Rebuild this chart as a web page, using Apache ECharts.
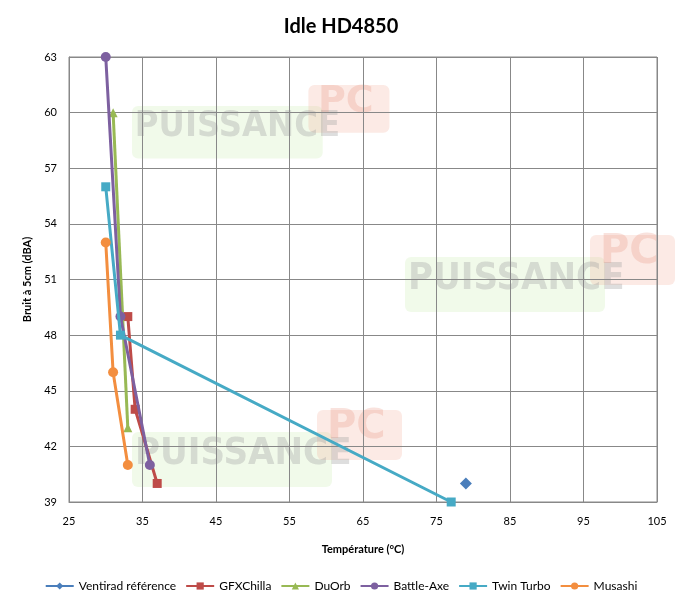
<!DOCTYPE html>
<html><head><meta charset="utf-8">
<script src="https://cdn.jsdelivr.net/npm/echarts@6/dist/echarts.min.js"></script>
<style>html,body{margin:0;padding:0;background:#fff}#c{width:682px;height:607px}</style>
</head><body><div id="c"></div>
<script>
const seriesNames = ["Ventirad référence","GFXChilla","DuOrb","Battle-Axe","Twin Turbo","Musashi"];
const ventirad = [[79,40]];
const gfxchilla = [[33,49],[34,44],[37,40]];
const duorb = [[31,60],[33,43]];
const battleAxe = [[30,63],[32,49],[36,41]];
const twinTurbo = [[30,56],[32,48],[77,39]];
const musashi = [[30,53],[31,46],[33,41]];
const xTicks = [25,35,45,55,65,75,85,95,105];
const yTicks = [39,42,45,48,51,54,57,60,63];

const colors = ["#4A7EBB","#BE4B48","#98B954","#7D60A0","#46AAC5","#F38E3F"];
const symbols = ["diamond","rect","triangle","circle","rect","circle"];
const sizes = [12,9,9,10,9,10];
const datas = [ventirad,gfxchilla,duorb,battleAxe,twinTurbo,musashi];
const font = "Lato, 'Open Sans', sans-serif";

function watermark(x,y,w){
  const s = w/215;
  return [
    {type:'rect',z:-1,shape:{x:x,y:y+22*s,width:200*s,height:55*s,r:6},style:{fill:'rgba(200,235,170,0.25)'}},
    {type:'rect',z:-1,shape:{x:x+185*s,y:y,width:85*s,height:50*s,r:6},style:{fill:'rgba(245,170,150,0.25)'}},
    {type:'text',z:-1,style:{x:x+3*s,y:y+25*s,text:'PUISSANCE',font:'bold '+Math.round(38*s)+'px "DejaVu Sans Condensed", "Liberation Sans Narrow", sans-serif',fill:'rgba(160,160,160,0.35)',width:190*s,overflow:'none'}},
    {type:'text',z:-1,style:{x:x+195*s,y:y-2*s,text:'PC',font:'bold '+Math.round(40*s)+'px "DejaVu Sans", sans-serif',fill:'rgba(230,140,120,0.25)'}}
  ];
}

const chart = echarts.init(document.getElementById('c'));
chart.setOption({
  animation:false,
  graphic: [].concat(watermark(132,85,205), watermark(405,235,215), watermark(132,410,215)),
  title:{text:"Idle HD4850",left:'center',top:12,textStyle:{fontFamily:font,fontSize:20,fontWeight:'bold',color:'#000'}},
  grid:{left:69,right:25,top:57,bottom:105,show:true,borderColor:'#888',borderWidth:1},
  xAxis:{type:'value',min:xTicks[0],max:xTicks[xTicks.length-1],interval:10,
    name:"Température (°C)",nameLocation:'middle',nameGap:42,
    nameTextStyle:{fontFamily:font,fontSize:11,fontWeight:'bold',color:'#000'},
    axisLine:{show:true,lineStyle:{color:'#888'}},axisTick:{show:false},
    axisLabel:{fontFamily:font,fontSize:11,color:'#000',margin:14},
    splitLine:{show:true,lineStyle:{color:'#888',width:1}}},
  yAxis:{type:'value',min:yTicks[0],max:yTicks[yTicks.length-1],interval:3,
    name:"Bruit à 5cm (dBA)",nameLocation:'middle',nameGap:32,nameRotate:90,
    nameTextStyle:{fontFamily:font,fontSize:11,fontWeight:'bold',color:'#000'},
    axisLine:{show:true,lineStyle:{color:'#888'}},axisTick:{show:false},
    axisLabel:{fontFamily:font,fontSize:11,color:'#000',margin:12},
    splitLine:{show:true,lineStyle:{color:'#888',width:1}}},
  legend:{bottom:10,left:'center',itemWidth:28,itemHeight:9,itemGap:9,
    textStyle:{fontFamily:font,fontSize:12,color:'#000'},data:seriesNames},
  series: seriesNames.map((n,i)=>({
    name:n,type:'line',data:datas[i],symbol:symbols[i],symbolSize:sizes[i],
    showSymbol:true,color:colors[i],
    lineStyle:{width:3,color:colors[i]},itemStyle:{color:colors[i]},z:2+i
  }))
});
</script></body></html>
